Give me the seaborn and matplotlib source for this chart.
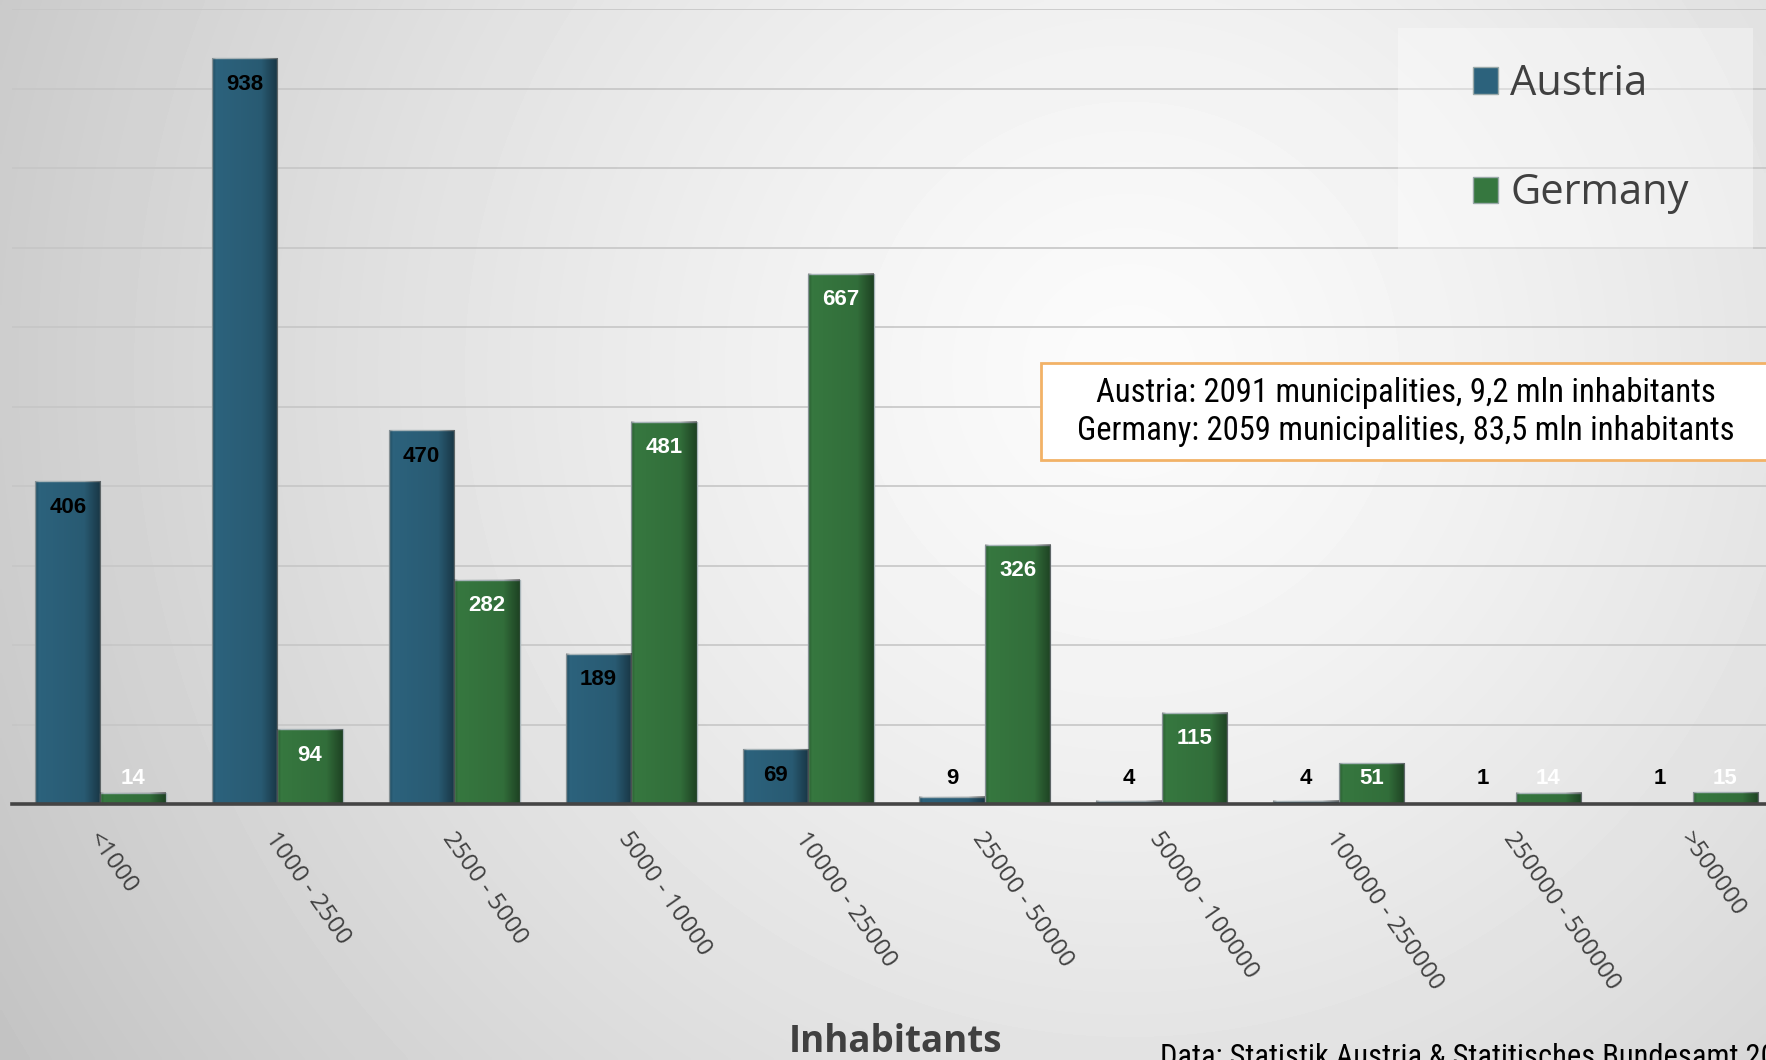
import numpy as np
import pandas as pd
import matplotlib.pyplot as plt
import seaborn as sns
from matplotlib import font_manager
from matplotlib.patches import Rectangle, Patch
from matplotlib.transforms import ScaledTranslation

# data
categories = ["<1000", "1000 - 2500", "2500 - 5000", "5000 - 10000", "10000 - 25000",
              "25000 - 50000", "50000 - 100000", "100000 - 250000", "250000 - 500000", ">500000"]
austria = [406, 938, 470, 189, 69, 9, 4, 4, 1, 1]
germany = [14, 94, 282, 481, 667, 326, 115, 51, 14, 15]
countries = ["Austria", "Germany"]
colors = ["#2c627c", "#36773f"]
label_colors = ["black", "white"]
info_lines = ["Austria: 2091 municipalities, 9,2 mln inhabitants",
              "Germany: 2059 municipalities, 83,5 mln inhabitants"]
source_text = "Data: Statistik Austria & Statitisches Bundesamt 20.12.2023"

W, H = 1766, 1060

sns.set_theme(style="white")
plt.rcParams["font.family"] = ["Open Sans", "DejaVu Sans"]

installed = {f.name for f in font_manager.fontManager.ttflist}
narrow = next((n for n in ["Liberation Sans Narrow", "Roboto Condensed", "Roboto"] if n in installed), "DejaVu Sans")

df = pd.DataFrame({
    "Inhabitants": categories * 2,
    "Country": [countries[0]] * len(austria) + [countries[1]] * len(germany),
    "Municipalities": austria + germany,
})

fig = plt.figure(figsize=(W / 100, H / 100), dpi=100)

# grey radial background
bg = fig.add_axes([0, 0, 1, 1], zorder=-10)
yy, xx = np.mgrid[0:1:300j, 0:1:500j]
d = np.hypot((xx - 0.64) * 1.67, yy - 0.35)
shade_bg = np.clip(0.985 - 0.165 * d ** 1.3, 0.7, 1)
bg.imshow(shade_bg, cmap="gray", vmin=0, vmax=1, extent=[0, 1, 0, 1], aspect="auto", interpolation="bilinear")
bg.axis("off")

ax = fig.add_axes([12 / W, 1 - 804 / H, 1 - 12 / W, 795 / H])
ax.set_facecolor("none")

sns.barplot(data=df, x="Inhabitants", y="Municipalities", hue="Country", palette=colors,
            width=0.74, saturation=1, edgecolor="#a9b6ba", linewidth=1, legend=False,
            ax=ax, zorder=2)

# soft darker edge on each bar
prof = np.interp(np.linspace(0, 1, 100), [0, 0.06, 0.75, 1], [0.22, 0, 0.08, 0.45])
grad = np.zeros((1, 100, 4))
grad[..., 3] = prof
for container, vals, lc in zip(ax.containers, [austria, germany], label_colors):
    for bar, v in zip(container, vals):
        x0 = bar.get_x()
        ax.imshow(grad, extent=[x0, x0 + bar.get_width(), 0, bar.get_height()],
                  aspect="auto", interpolation="bilinear", zorder=2.5)
        ax.text(x0 + bar.get_width() / 2, max(v, 65) - 32.6, str(v), ha="center", va="center",
                color=lc, fontsize=16, fontweight="bold", family="Liberation Sans", zorder=5)

ax.set_xlim(-0.5, -0.5 + (W - 12) / 176.9)
ax.set_ylim(0, 1000)
ax.set_yticks(range(0, 1001, 100))
ax.set_yticklabels([])
ax.yaxis.grid(True, color="#c6c6c6", lw=1.2)
ax.set_axisbelow(True)
ax.tick_params(length=0)
for s in ["left", "right", "top"]:
    ax.spines[s].set_visible(False)
ax.spines["bottom"].set_color("#444444")
ax.spines["bottom"].set_linewidth(2.6)
ax.spines["bottom"].set_zorder(4)

ax.set_xticks(range(len(categories)))
ax.set_xticklabels(categories, rotation=-55, ha="left", va="top", rotation_mode="anchor",
                   color="#404040", fontsize=17.5)
ax.tick_params(axis="x", pad=17)
for lbl in ax.get_xticklabels():
    lbl.set_transform(lbl.get_transform() + ScaledTranslation(0.02, 0, fig.dpi_scale_trans))

ax.set_ylabel("")
ax.set_xlabel("Inhabitants", fontsize=26.5, fontweight="bold", color="#404040")
ax.xaxis.set_label_coords((896 - 12) / (W - 12), -(1052 - 804) / 795)
ax.xaxis.label.set_verticalalignment("baseline")

# legend panel
fig.add_artist(Rectangle((1398 / W, 1 - 249 / H), 355 / W, 221 / H, transform=fig.transFigure,
                         facecolor="white", alpha=0.35, edgecolor="none", zorder=4))
handles = [Patch(facecolor=c, edgecolor="#9aa9a9", lw=1) for c in colors]
leg = fig.legend(handles, countries, loc="upper left", bbox_to_anchor=(1473 / W, 1 - 63 / H),
                 frameon=False, fontsize=30, handlelength=0.6, handleheight=0.6,
                 handletextpad=0.3, labelspacing=1.62, borderpad=0, borderaxespad=0)
leg.set_zorder(5)
for t in leg.get_texts():
    t.set_color("#404040")

# info box
fig.add_artist(Rectangle((1041 / W, 1 - 460 / H), 760 / W, 97 / H, transform=fig.transFigure,
                         facecolor="white", edgecolor="#f2b267", lw=2, zorder=5))
for line, ypx in zip(info_lines, [393, 431]):
    fig.text(1406 / W, 1 - ypx / H, line, ha="center", va="center", fontsize=23.5,
             family=narrow, color="black", zorder=6)

fig.text(1160 / W, 1 - 1043 / H, source_text, ha="left", va="top", fontsize=22,
         family=narrow, color="black")

fig.savefig("out.png", dpi=100)
